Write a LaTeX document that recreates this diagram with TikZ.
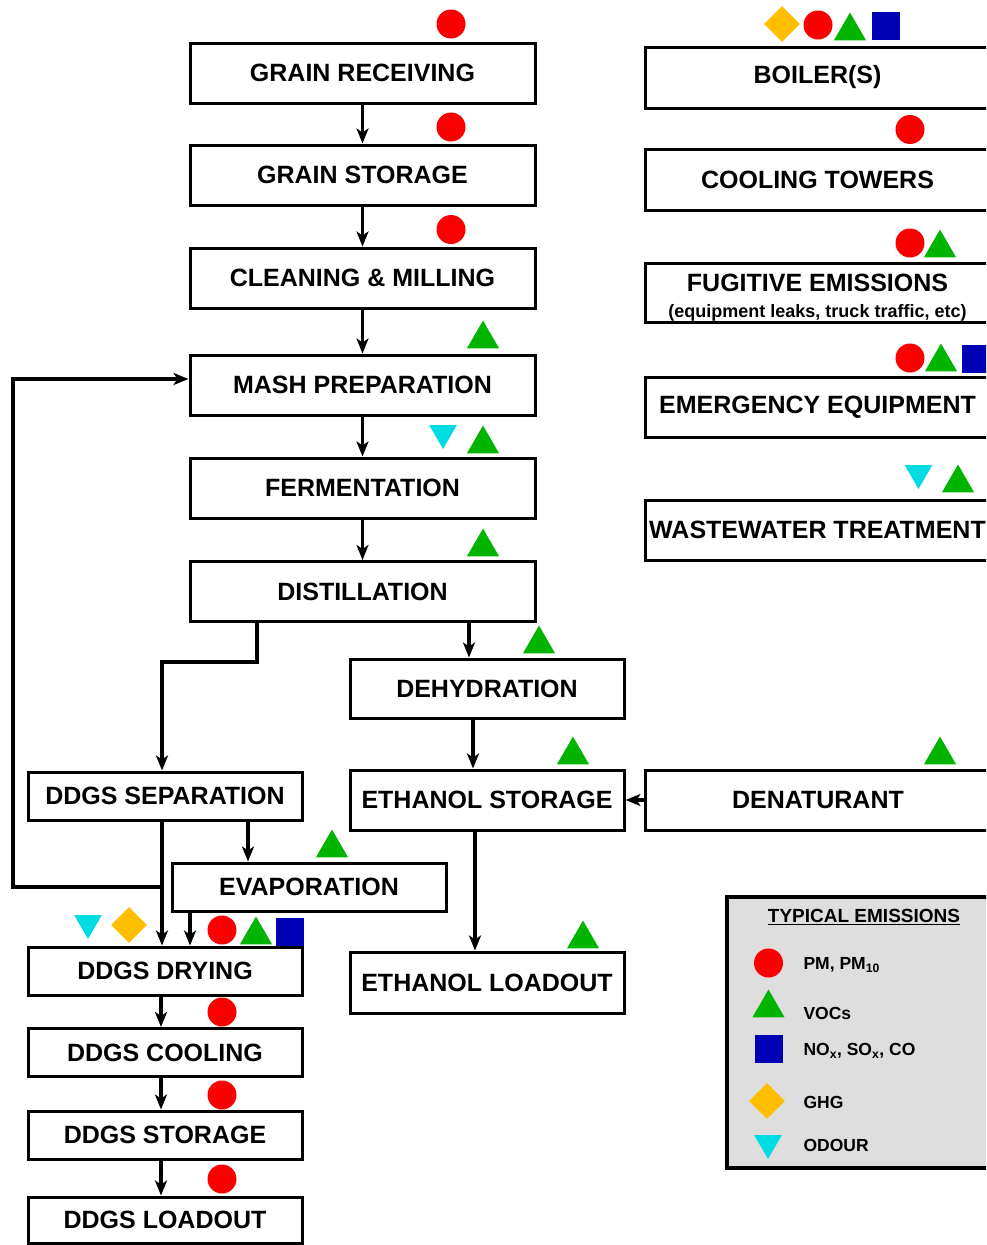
\documentclass[tikz,border=0pt]{standalone}
\usepackage{fontspec}
\setmainfont{Liberation Sans}
\usetikzlibrary{shapes.geometric,arrows.meta}
\definecolor{pmred}{RGB}{250,0,0}
\definecolor{vocgreen}{RGB}{0,180,0}
\definecolor{noxblue}{RGB}{0,0,180}
\definecolor{ghgorange}{RGB}{255,190,0}
\definecolor{odourcyan}{RGB}{0,220,225}
\definecolor{legendgray}{RGB}{222,222,222}

\begin{document}
\begin{tikzpicture}[x=1pt,y=-1pt,
  box/.style={draw,line width=3pt,inner sep=0pt,minimum width=345pt,minimum height=60pt,
    font=\fontsize{25}{28}\selectfont\bfseries},
  sbox/.style={box,minimum width=274pt,minimum height=48pt},
  flow/.style={line width=3.1pt,-{Stealth[length=15pt,width=12pt,inset=4pt]}},
  pm/.style={circle,fill=pmred,minimum size=29pt,inner sep=0pt},
  voc/.style={regular polygon,regular polygon sides=3,fill=vocgreen,minimum size=37pt,inner sep=0pt},
  odour/.style={voc,fill=odourcyan,shape border rotate=180,minimum size=32pt},
  nox/.style={rectangle,fill=noxblue,minimum size=28pt,inner sep=0pt},
  ghg/.style={diamond,fill=ghgorange,minimum size=36pt,inner sep=0pt},
  key/.style={anchor=west,font=\fontsize{17.5}{20}\selectfont\bfseries}]
\useasboundingbox (0,0) rectangle (986,1245);
\clip (0,0) rectangle (986,1245);
\path node (gr) at (362.5,73) [box] {GRAIN RECEIVING}
node (gs) at (362.5,175) [box] {GRAIN STORAGE}
node (cm) at (362.5,278) [box] {CLEANING \& MILLING}
node (mash) at (362.5,385) [box] {MASH PREPARATION}
node (ferm) at (362.5,488) [box] {FERMENTATION}
node (dist) at (362.5,591.5) [box] {DISTILLATION}
node (deh) at (487,688.5) [box,minimum width=274pt,minimum height=59pt] {DEHYDRATION}
node (es) at (487,800) [box,minimum width=274pt] {ETHANOL STORAGE}
node (el) at (487,982.5) [box,minimum width=274pt,minimum height=61pt] {ETHANOL LOADOUT}
node (den) at (818,800) [box] {DENATURANT}
node (sep) at (165,796) [sbox] {DDGS SEPARATION}
node (evap) at (309,887) [sbox] {EVAPORATION}
node (dry) at (165,971) [sbox] {DDGS DRYING}
node (cool) at (165,1052.5) [sbox] {DDGS COOLING}
node (stor) at (165,1135) [sbox] {DDGS STORAGE}
node (load) at (165,1220) [sbox,minimum height=46pt] {DDGS LOADOUT}
node (boil) at (817.5,77.5) [box,minimum height=61pt] {BOILER(S)}
node (ct) at (817.5,179.5) [box,minimum height=61pt] {COOLING TOWERS}
node (fug) at (817.5,293) [box,minimum height=59pt] {}
node (fug-label) at (817.5,297.5) [align=center,inner sep=0pt,font=\fontsize{25}{28}\selectfont\bfseries]
  {FUGITIVE EMISSIONS\\[-2pt]{\fontsize{18}{20}\selectfont (equipment leaks, truck traffic, etc)}}
node (emer) at (817.5,407) [box] {EMERGENCY EQUIPMENT}
node (ww) at (817.5,530) [box] {WASTEWATER TREATMENT};

\path node (gr-pm) at (451,24) [pm] {}
node (gs-pm) at (451,127) [pm] {}
node (cm-pm) at (451,229.5) [pm] {}
node (mash-voc) at (483,339) [voc] {}
node (ferm-od) at (443,433) [odour] {}
node (ferm-voc) at (483,444) [voc] {}
node (dist-voc) at (483,547) [voc] {}
node (deh-voc) at (539,644) [voc] {}
node (es-voc) at (573,755) [voc] {}
node (den-voc) at (940,755) [voc] {}
node (el-voc) at (583,939) [voc] {}
node (evap-voc) at (332,848) [voc] {}
node (dry-od) at (88,923) [odour] {}
node (dry-ghg) at (129,925) [ghg] {}
node (dry-pm) at (222,930) [pm] {}
node (dry-voc) at (256,935) [voc] {}
node (dry-nox) at (290,932) [nox] {}
node (cool-pm) at (222,1012) [pm] {}
node (stor-pm) at (222,1095) [pm] {}
node (load-pm) at (222,1179) [pm] {}
node (boil-ghg) at (782,24) [ghg] {}
node (boil-pm) at (818,25) [pm] {}
node (boil-voc) at (850,31) [voc] {}
node (boil-nox) at (886,26) [nox] {}
node (ct-pm) at (910,129.5) [pm] {}
node (fug-pm) at (910,243) [pm] {}
node (fug-voc) at (940,248) [voc] {}
node (emer-pm) at (910,358) [pm] {}
node (emer-voc) at (941,362) [voc] {}
node (emer-nox) at (976,359) [nox] {}
node (ww-od) at (918.5,473) [odour] {}
node (ww-voc) at (958,483) [voc] {};

\path node (legend) at (861,1032.5) [draw,line width=3.5pt,fill=legendgray,minimum width=268pt,minimum height=271pt] {}
node (title) at (864,917) [font=\fontsize{19}{22}\selectfont\bfseries] {\underline{TYPICAL EMISSIONS}}
node (k1) at (768.5,963) [pm] {}
node (k2) at (768.5,1008) [voc] {}
node (k3) at (768.5,1049) [nox] {}
node (k4) at (767,1101) [ghg] {}
node (k5) at (768,1143) [odour] {}
node (t1) at (800,965) [key] {PM, PM\textsubscript{10}}
node (t2) at (800,1013) [key] {VOCs}
node (t3) at (800,1051) [key] {NO\textsubscript{x}, SO\textsubscript{x}, CO}
node (t4) at (800,1102) [key] {GHG}
node (t5) at (800,1145) [key] {ODOUR};

\coordinate (bend) at (257,662);
\coordinate (split) at (162,887);
\draw[flow] (gr.south) -- (gs.north);
\draw[flow] (gs.south) -- (cm.north);
\draw[flow] (cm.south) -- (mash.north);
\draw[flow] (mash.south) -- (ferm.north);
\draw[flow] (ferm.south) -- (dist.north);
\draw[flow] (dist.south -| 469,0) -- (deh.north -| 469,0);
\draw[flow] (deh.south -| 473,0) -- (es.north -| 473,0);
\draw[flow] (es.south -| 475,0) -- (el.north -| 475,0);
\draw[flow] (den.west) -- (es.east);
\draw[flow] (dist.south -| bend) -- (bend) -| (sep.north -| split);
\draw[flow] (sep.south -| split) -- (dry.north -| split);
\draw[flow] (split) -- (13,887) |- ([yshift=6pt]mash.west);
\draw[flow] (sep.south -| 248,0) -- (evap.north -| 248,0);
\draw[flow] (evap.south -| 190,0) -- (dry.north -| 190,0);
\draw[flow] (dry.south -| 161,0) -- (cool.north -| 161,0);
\draw[flow] (cool.south -| 161,0) -- (stor.north -| 161,0);
\draw[flow] (stor.south -| 161,0) -- (load.north -| 161,0);
\end{tikzpicture}
\end{document}
